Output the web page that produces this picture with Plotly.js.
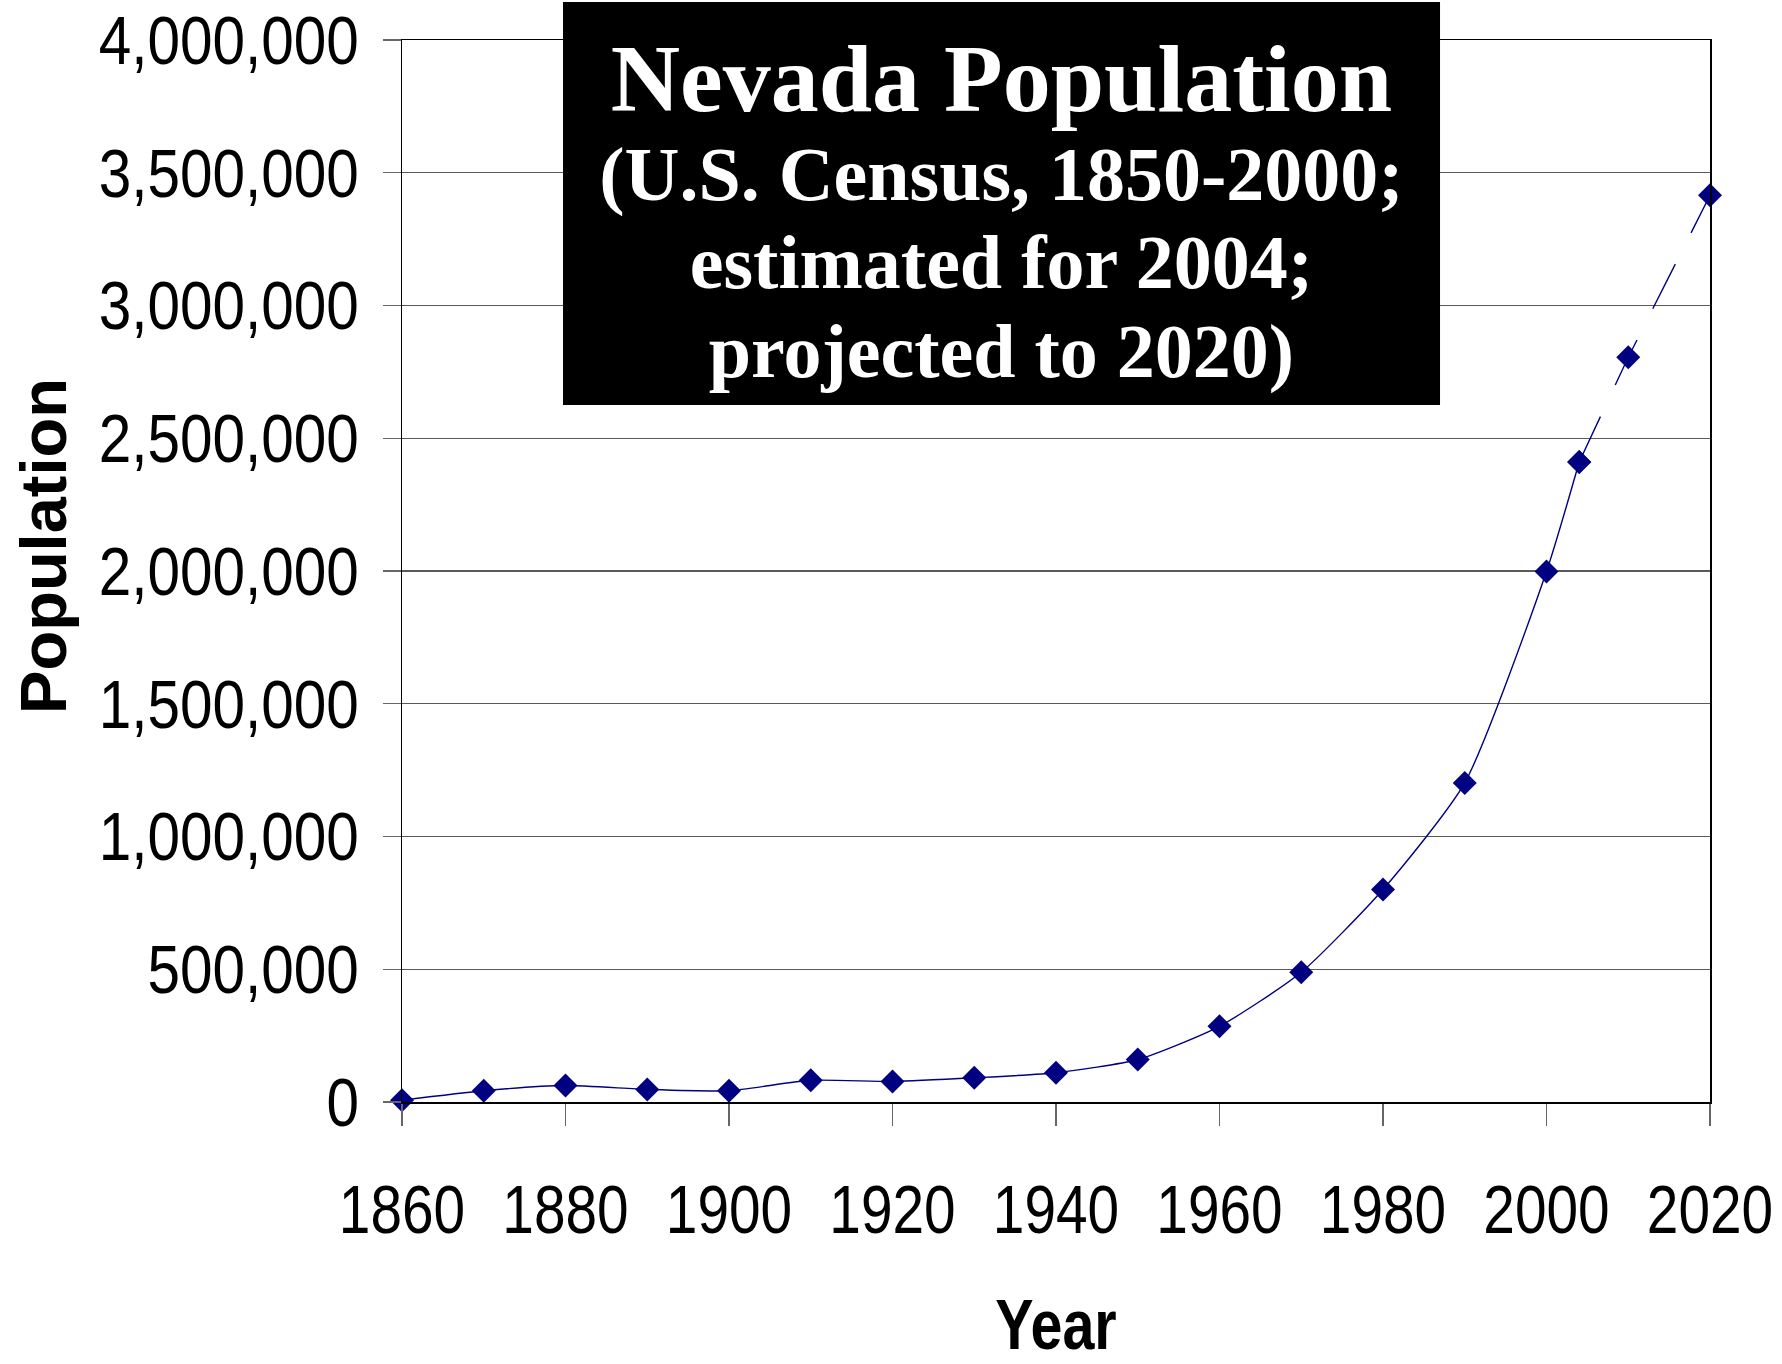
<!DOCTYPE html>
<html><head><meta charset="utf-8">
<script src="https://cdn.plot.ly/plotly-3.0.1.min.js"></script>
<style>html,body{margin:0;padding:0;background:#fff}</style>
</head><body><div id="chart" style="width:1782px;height:1364px"></div>
<script>
// Census (1860-2000) and 2004 estimate
const censusYears = [1860, 1870, 1880, 1890, 1900, 1910, 1920, 1930, 1940, 1950, 1960, 1970, 1980, 1990, 2000, 2004];
const censusPop = [6857, 42491, 62266, 47355, 42335, 81875, 77407, 91058, 110247, 160083, 285278, 488738, 800493, 1201833, 1998257, 2410768];
// Projection 2004-2020
const projYears = [2004, 2010, 2020];
const projPop = [2410768, 2805000, 3415000];

const xTicks = [1860, 1880, 1900, 1920, 1940, 1960, 1980, 2000, 2020];
const yTicks = [0, 500000, 1000000, 1500000, 2000000, 2500000, 3000000, 3500000, 4000000];

const navy = '#000080';
const sans = '"Liberation Sans", Arial, sans-serif';

const traces = [
  {
    x: censusYears, y: censusPop, type: 'scatter', mode: 'lines+markers',
    line: {color: navy, width: 1.4, shape: 'spline', smoothing: 0.6},
    marker: {symbol: 'diamond', size: 18.5, color: navy},
    cliponaxis: false, showlegend: false
  },
  {
    x: projYears, y: projPop, type: 'scatter', mode: 'lines+markers',
    line: {color: navy, width: 1.4, dash: '50px,35px'},
    marker: {symbol: 'diamond', size: 18.5, color: navy},
    cliponaxis: false, showlegend: false
  }
];

const layout = {
  width: 1782, height: 1364,
  paper_bgcolor: '#fff', plot_bgcolor: '#fff',
  margin: {l: 402, r: 72, t: 40, b: 262},
  title: {
    text: '<span style="font-size:96px">Nevada Population</span><br>' +
          '<span style="font-size:76px">(U.S. Census, 1850-2000;</span><br>' +
          '<span style="font-size:76px">estimated for 2004;</span><br>' +
          '<span style="font-size:76px">projected to 2020)</span>',
    font: {family: '"Liberation Serif", "Times New Roman", serif', size: 68, color: '#fff', weight: 'bold'},
    xref: 'paper', x: 0.4583, xanchor: 'center',
    yref: 'container', y: 0.9183, yanchor: 'top',
    automargin: false
  },
  shapes: [{
    type: 'rect', xref: 'paper', yref: 'paper',
    x0: 0.1231, x1: 0.7936, y0: 0.6563, y1: 1.0358,
    fillcolor: '#000', line: {width: 0}, layer: 'above'
  }],
  xaxis: {
    range: [1860, 2020], tickvals: xTicks, ticktext: xTicks.map(String), tickangle: 0,
    showgrid: false, zeroline: false,
    showline: true, linecolor: '#000', linewidth: 1.5, mirror: true,
    ticks: 'outside', ticklen: 22, tickcolor: '#666', tickwidth: 1.3,
    tickfont: {family: sans, size: 68, color: '#000'},
    ticklabelstandoff: 26, ticklabeloverflow: 'allow',
    title: {text: 'Year', font: {family: sans, size: 70, color: '#000', weight: 'bold'}, standoff: 56},
    fixedrange: true
  },
  yaxis: {
    range: [0, 4000000], tickvals: yTicks, tickformat: ',d',
    showgrid: true, gridcolor: '#5a5a5a', gridwidth: 1.2, zeroline: false,
    showline: true, linecolor: '#000', linewidth: 1.5, mirror: true,
    ticks: 'outside', ticklen: 18, tickcolor: '#666', tickwidth: 1.3,
    tickfont: {family: sans, size: 68, color: '#000'},
    ticklabelstandoff: 10, ticklabeloverflow: 'allow',
    title: {text: 'Population', font: {family: sans, size: 65, color: '#000', weight: 'bold'}, standoff: 28},
    fixedrange: true
  },
  hovermode: false
};

Plotly.newPlot('chart', traces, layout, {displayModeBar: false, staticPlot: true}).then(function (gd) {
  // condensed (narrow) look of the original labels
  function squeeze(sel, f) {
    gd.querySelectorAll(sel).forEach(function (t) {
      var w = t.getComputedTextLength();
      if (w > 0) {
        t.setAttribute('textLength', (w * f).toFixed(1));
        t.setAttribute('lengthAdjust', 'spacingAndGlyphs');
      }
    });
  }
  squeeze('.xtick text', 0.835);
  squeeze('.ytick text', 0.86);
  squeeze('.g-xtitle text', 0.82);
  // place the y title where the original has it
  var yt = gd.querySelector('.g-ytitle text');
  if (yt) {
    var b = yt.getBoundingClientRect();
    var dx = 43 - (b.left + b.right) / 2;
    var dy = 546 - (b.top + b.bottom) / 2;
    var tr = yt.getAttribute('transform') || '';
    yt.setAttribute('transform', 'translate(' + dx.toFixed(1) + ',' + dy.toFixed(1) + ') ' + tr);
  }
});
</script>
</body></html>
